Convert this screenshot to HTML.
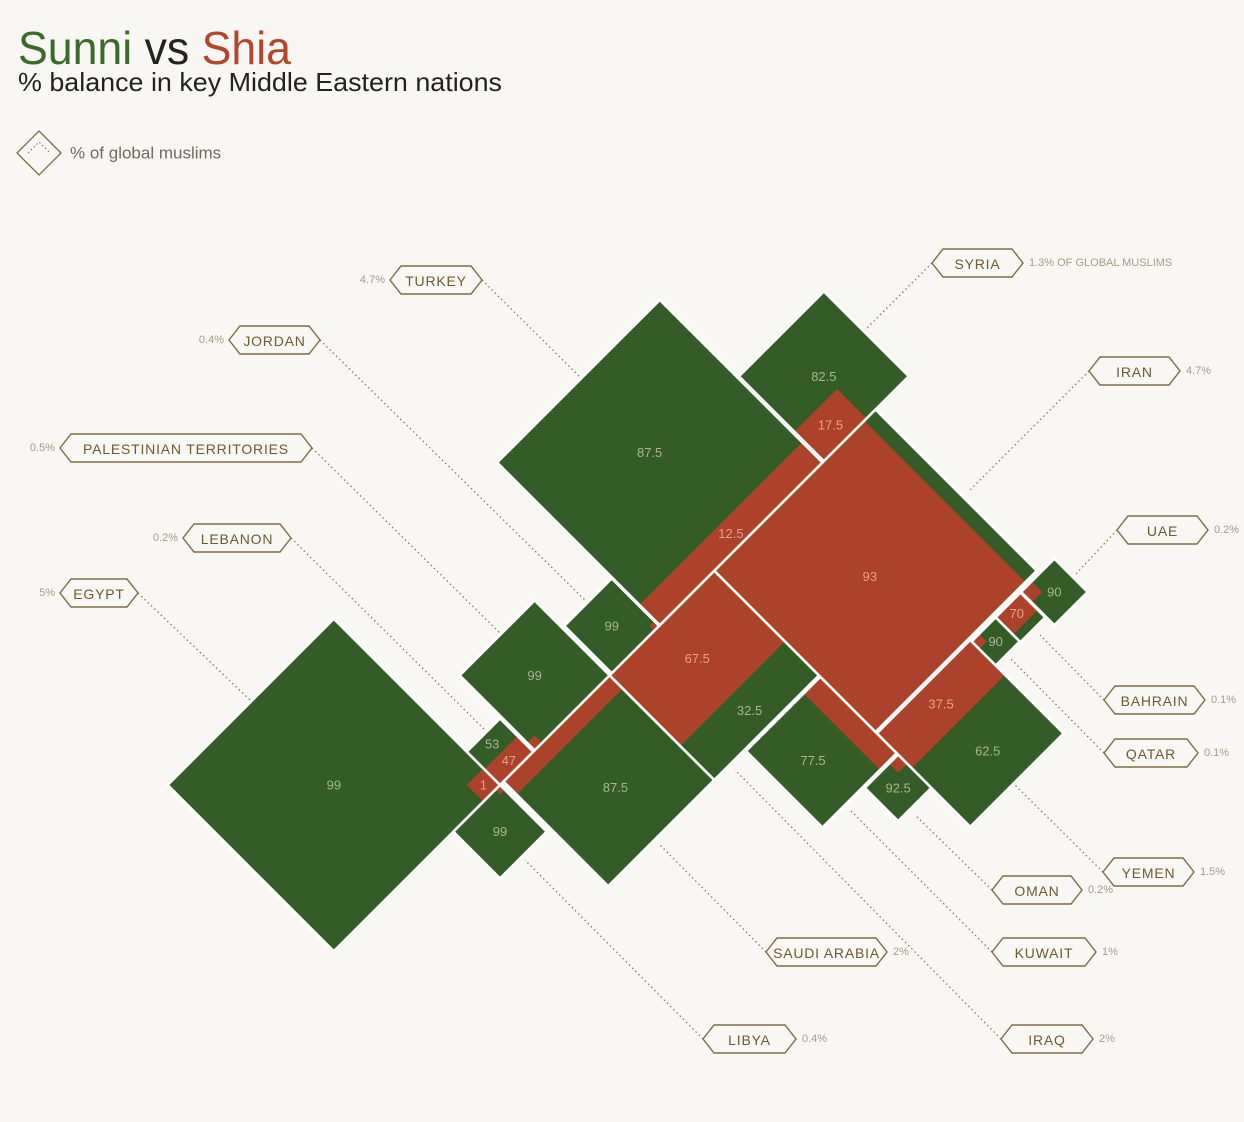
<!DOCTYPE html>
<html><head><meta charset="utf-8">
<style>
html,body{margin:0;padding:0;background:#f9f7f3;width:1244px;height:1122px;overflow:hidden;}
svg{display:block;position:absolute;left:0;top:0;}
.num{font-family:"Liberation Sans Narrow","Liberation Sans",sans-serif;font-size:13px;text-anchor:middle;dominant-baseline:central;}
.tag{font-family:"Liberation Sans",sans-serif;font-size:14px;fill:#6b5a32;letter-spacing:0.8px;text-anchor:middle;dominant-baseline:central;}
.pct{font-family:"Liberation Sans Narrow","Liberation Sans",sans-serif;font-size:11px;fill:#a39c8a;dominant-baseline:central;}
</style></head>
<body>
<svg id="chart" width="1244" height="1122" viewBox="0 0 1244 1122" xmlns="http://www.w3.org/2000/svg">
<rect width="1244" height="1122" fill="#f9f7f3"/>
<text x="18" y="64" font-family="Liberation Sans, sans-serif" font-size="46" textLength="273" lengthAdjust="spacingAndGlyphs"><tspan fill="#3b6a2b">Sunni</tspan><tspan fill="#222"> vs </tspan><tspan fill="#b5452d">Shia</tspan></text>
<text x="18" y="91" font-family="Liberation Sans, sans-serif" font-size="26" fill="#222" textLength="484" lengthAdjust="spacingAndGlyphs">% balance in key Middle Eastern nations</text>
<g>
<polygon points="39,131 61,153 39,175 17,153" fill="none" stroke="#7d6b45" stroke-width="1.3"/>
<polyline points="28,153 39,142 50,153" fill="none" stroke="#7d6b45" stroke-width="1" stroke-dasharray="1.5 2.5"/>
<text x="70" y="153" font-family="Liberation Sans, sans-serif" font-size="17" fill="#6f6a60" dominant-baseline="central">% of global muslims</text>
</g>
<g id="leaders"></g>
<g id="shapes" transform="translate(500,785) rotate(-45)"></g>
<g id="outlines" transform="translate(500,785) rotate(-45)"></g>
<g id="nums"></g>
<g id="tags"></g>
</svg>
<script>
// ---- data ----
const countries = ["Egypt","Libya","Lebanon","Palestinian Territories","Jordan","Turkey","Syria","Saudi Arabia","Iraq","Iran","Kuwait","Oman","Yemen","Qatar","Bahrain","UAE"];
const globalShare = ["5%","0.4%","0.2%","0.5%","0.4%","4.7%","1.3% OF GLOBAL MUSLIMS","2%","2%","4.7%","1%","0.2%","1.5%","0.1%","0.1%","0.2%"];
const sunniPct = [99,99,53,99,99,87.5,82.5,87.5,32.5,7,77.5,92.5,62.5,90,30,90];
const showRedLabel = [1,0,1,0,0,1,1,0,1,1,0,0,1,0,1,0];
const showGreenLabel = [1,1,1,1,1,1,1,1,1,0,1,1,1,1,0,1];

// ---- layout (rotated frame: x = NE, y = SE) ----
const boxes = [[-235,-235,235,235],[-66,0,66,66],[0,-47,47,47],[49,-106,106,106],[158,-67,67,67],[226,-230,230,230],[458,-120,120,120],[5,0,150,148],[155,0,148,148],[303,0,228,228],[198,150,105,108],[256,260,47,47],[303,230,132,132],[435,232,34,34],[469,232,35,35],[505,232,47,47]];
const redMode = ["c:xmax:ymax","c:xmax:ymin","b:ymax","c:xmin:ymax","c:xmax:ymax","b:ymax","c:xmin:ymax","b:ymin","b:ymin","b:xmin","b:xmax","c:xmax:ymin","b:ymin","c:xmin:ymin","b:ymin","c:xmin:ymin"];
const redAspect = [1,1,1,1,1,1,1.45,1,1,1,1,1,1,1,1,1];
const tagBox = [[60,138,593,'L',250,700],[703,796,1039,'R',525,860],[183,291,538,'L',490,735],[60,312,448,'L',505,638],[229,320,340,'L',590,605],[390,482,280,'L',585,382],[932,1023,263,'R',865,330],[766,887,952,'R',660,845],[1001,1093,1039,'R',735,770],[1089,1180,371,'R',968,492],[992,1096,952,'R',850,810],[992,1082,890,'R',915,815],[1103,1194,872,'R',1015,785],[1104,1198,753,'R',1010,658],[1104,1205,700,'R',1040,635],[1117,1208,530,'R',1075,575]];

const NS="http://www.w3.org/2000/svg";
const SQ=Math.SQRT1_2;
function toImg(x,y){return [500+(x+y)*SQ,785+(y-x)*SQ];}
function el(t,a,p){const e=document.createElementNS(NS,t);for(const k in a)e.setAttribute(k,a[k]);p.appendChild(e);return e;}
const G="#335c27",R="#ad422a";
const shapes=document.getElementById('shapes'),outl=document.getElementById('outlines'),nums=document.getElementById('nums'),tags=document.getElementById('tags'),leaders=document.getElementById('leaders');
function slug(s){return s.toLowerCase().replace(/[^a-z]+/g,'-');}

countries.forEach((c,i)=>{
  const [x,y,w,h]=boxes[i];const f=(100-sunniPct[i])/100;
  const g=el('g',{},shapes);
  
  
  const gr=el('rect',{x:x,y:y,width:w,height:h,fill:G},g);
  
  
  const m=redMode[i].split(':');let rx,ry,rw,rh;
  if(m[0]==='b'){
    if(m[1]==='ymax'){rw=w;rh=h*f;rx=x;ry=y+h-rh;}
    else if(m[1]==='ymin'){rw=w;rh=h*f;rx=x;ry=y;}
    else if(m[1]==='xmin'){rw=w*f;rh=h;rx=x;ry=y;}
    else {rw=w*f;rh=h;rx=x+w-rw;ry=y;}
  } else {
    const A=f*w*h;rw=Math.sqrt(A*redAspect[i]);rh=A/rw;
    rx=m[1]==='xmax'?x+w-rw:x;ry=m[2]==='ymax'?y+h-rh:y;
  }
  const rr=el('rect',{x:rx,y:ry,width:rw,height:rh,fill:R},g);
  
  
  const o=el('rect',{x:x,y:y,width:w,height:h,fill:'none',stroke:'#fff','stroke-width':2.5},outl);
  
  
  if(showRedLabel[i]){
    const p=toImg(rx+rw/2,ry+rh/2);
    const t=el('text',{x:p[0],y:p[1],class:'num',fill:'#e8a18e'},nums);t.textContent=String(+(100-sunniPct[i]).toFixed(1));
    
    
  }
  if(showGreenLabel[i]){
    let cx=x+w/2,cy=y+h/2;
    if(m[0]==='b'){
      if(m[1]==='ymax')cy=y+(h-rh)/2; else if(m[1]==='ymin')cy=y+rh+(h-rh)/2;
      else if(m[1]==='xmin')cx=x+rw+(w-rw)/2; else cx=x+(w-rw)/2;
    }
    const p=toImg(cx,cy);
    const t=el('text',{x:p[0],y:p[1],class:'num',fill:'#a8b596'},nums);t.textContent=String(sunniPct[i]);
    
    
  }
  const [x0,x1,yc,side,tx,ty]=tagBox[i];
  const ln=el('line',{x1:side==='L'?x1:x0,y1:yc,x2:tx,y2:ty,stroke:'#8a7a55','stroke-width':1.3,'stroke-dasharray':'1.5 3'},leaders);
  
  
  const tg=el('g',{},tags);
  
  
  el('polygon',{points:`${x0},${yc} ${x0+11},${yc-14} ${x1-11},${yc-14} ${x1},${yc} ${x1-11},${yc+14} ${x0+11},${yc+14}`,fill:'#f9f7f3',stroke:'#7d6b45','stroke-width':1.4},tg);
  const tt=el('text',{x:(x0+x1)/2,y:yc+1,class:'tag'},tg);tt.textContent=c.toUpperCase();
  const pt=el('text',{x:side==='L'?x0-5:x1+6,y:yc,class:'pct','text-anchor':side==='L'?'end':'start'},tg);pt.textContent=globalShare[i];
  
  
});
</script>
</body></html>
